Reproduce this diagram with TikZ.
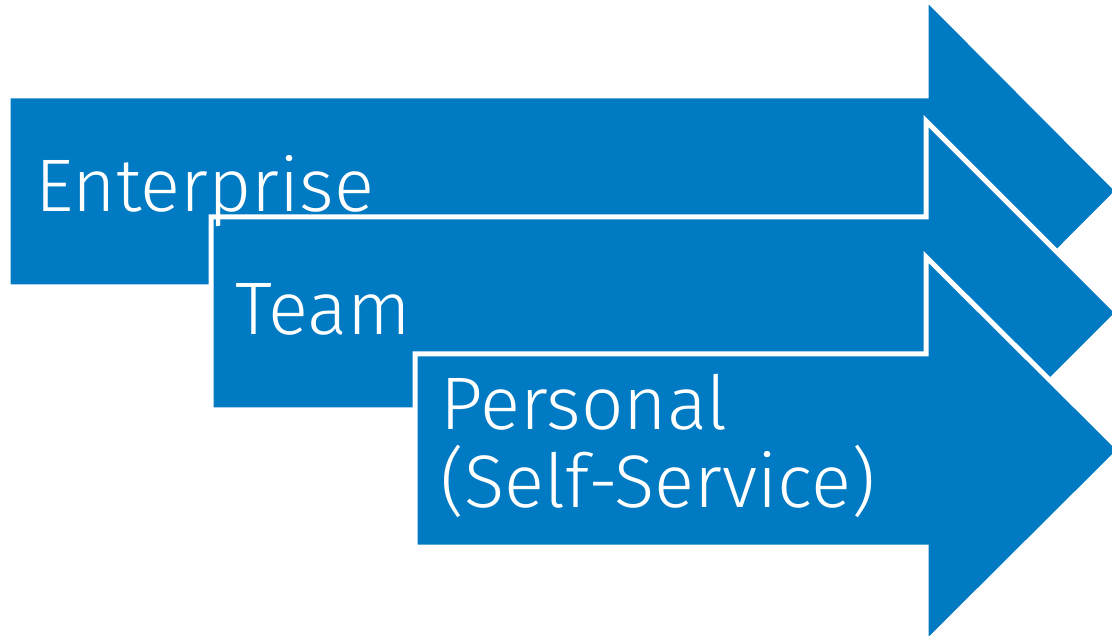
\documentclass[tikz,border=0pt]{standalone}
\usepackage{fontspec}
\setmainfont{Fira Sans}[UprightFont={* Light}]
\definecolor{arrowblue}{RGB}{0,122,194}

\tikzset{
    arrowbox/.style={fill=arrowblue, draw=white, line width=5pt, line join=miter},
    label/.style={text=white, anchor=base west, inner sep=0pt, align=left,
        font=\fontsize{74.5}{78}\selectfont},
}

\begin{document}
\begin{tikzpicture}[x=1pt,y=-1pt]
    \useasboundingbox (0,0) rectangle (1112,636);
    % Enterprise
    \draw[arrowbox] (8,96) -- (926,96) -- (926,-2) -- (1118,191) -- (926,384) -- (926,287) -- (8,287) -- cycle;
    % Team
    \draw[arrowbox] (211,217) -- (926,217) -- (926,121) -- (1118,313) -- (926,505) -- (926,410) -- (211,410) -- cycle;
    % Personal
    \draw[arrowbox] (415,354) -- (926,354) -- (926,257) -- (1120,450) -- (926,643) -- (926,547) -- (415,547) -- cycle;

    \node[label] (enterprise) at (35,212) {Enterprise};
    \node[label] (team) at (235,335) {Team};
    \node[label] (personal) at (440,507) {Personal\\(Self-Service)};
\end{tikzpicture}
\end{document}
